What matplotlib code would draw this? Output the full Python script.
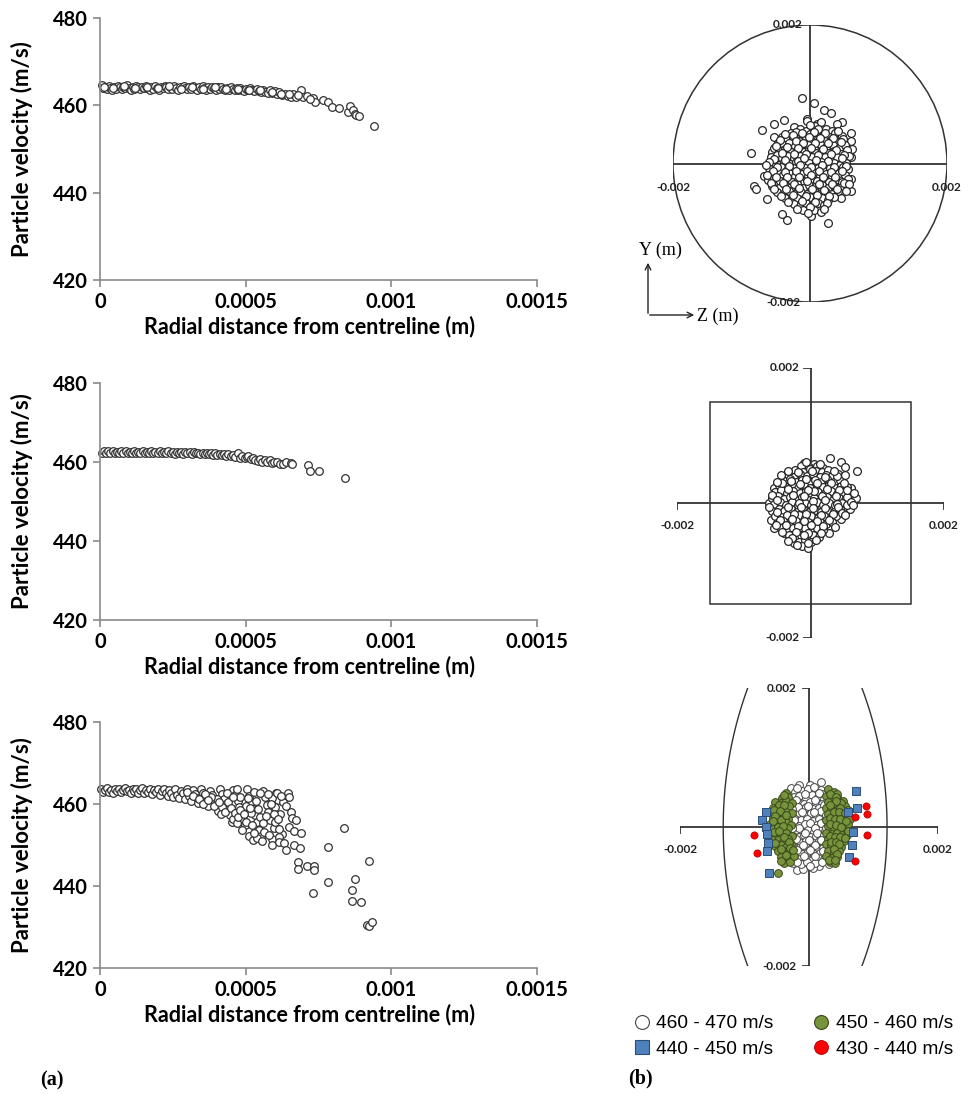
import numpy as np
import matplotlib
matplotlib.use("Agg")
import matplotlib.pyplot as plt
from matplotlib.patches import Ellipse, Rectangle
from matplotlib.lines import Line2D

plt.rcParams['font.family'] = ['Lato', 'DejaVu Sans']

# radial distance (micrometres), particle velocity (m/s)
vel_top = [
    (8, 464.6), (12, 463.9), (18, 464.2), (24, 463.7), (30, 464.4), (36, 464.0), (42, 463.6), (48, 464.3),
    (55, 463.8), (61, 464.5), (67, 464.1), (74, 463.7), (80, 464.3), (86, 463.9), (93, 464.6), (99, 464.0),
    (106, 463.6), (112, 464.2), (118, 463.8), (125, 464.5), (131, 464.1), (138, 463.7), (144, 464.3), (150, 463.9),
    (157, 464.5), (163, 464.0), (170, 463.6), (176, 464.2), (183, 463.8), (189, 464.4), (196, 464.0), (202, 463.6),
    (209, 464.3), (215, 463.9), (222, 464.5), (228, 464.1), (235, 463.7), (241, 464.2), (248, 463.8), (254, 464.4),
    (261, 464.0), (267, 463.6), (274, 464.3), (280, 463.9), (287, 464.4), (293, 464.0), (300, 463.7), (306, 464.2),
    (313, 463.8), (319, 464.4), (326, 464.0), (332, 463.6), (339, 464.2), (345, 463.8), (352, 464.4), (358, 463.9),
    (365, 463.6), (371, 464.2), (378, 463.8), (384, 464.3), (391, 463.9), (397, 463.5), (404, 464.1), (410, 463.7),
    (417, 464.2), (423, 463.8), (430, 463.5), (436, 464.0), (443, 463.6), (449, 464.1), (456, 463.7), (462, 463.4),
    (469, 463.9), (475, 463.5), (482, 464.0), (488, 463.6), (495, 463.3), (502, 463.8), (508, 463.4), (515, 463.9),
    (522, 463.5), (530, 463.2), (538, 463.7), (545, 463.3), (552, 463.0), (560, 463.5), (568, 463.1), (576, 462.9),
    (584, 463.4), (592, 462.8), (600, 463.2), (608, 462.6), (615, 463.0), (625, 462.4), (635, 462.7), (645, 462.2),
    (655, 461.9), (662, 462.5), (673, 462.0), (690, 463.5), (698, 461.8), (710, 462.2), (730, 461.7), (737, 460.7),
    (765, 461.2), (784, 460.7), (796, 459.7), (820, 459.4), (850, 458.5), (857, 459.9), (867, 458.9), (876, 458.0),
    (879, 457.7), (888, 457.6), (941, 455.2),
    (15, 464.1), (46, 463.9), (83, 464.4), (121, 463.9), (160, 464.3), (199, 463.9), (238, 464.4), (277, 463.8),
    (316, 464.1), (355, 463.7), (394, 464.2), (433, 463.8), (472, 463.7), (511, 463.6), (550, 463.4), (589, 463.1),
    (620, 462.7), (650, 462.5), (680, 462.3), (720, 461.5),
]
vel_mid = [
    (8, 462.2), (15, 462.7), (22, 462.3), (29, 462.8), (36, 462.4), (44, 462.7), (51, 462.2), (58, 462.6),
    (66, 462.3), (73, 462.8), (80, 462.4), (88, 462.7), (95, 462.2), (102, 462.6), (110, 462.3), (117, 462.8),
    (124, 462.4), (132, 462.6), (139, 462.2), (146, 462.7), (154, 462.3), (161, 462.6), (168, 462.2), (176, 462.7),
    (183, 462.4), (190, 462.6), (198, 462.2), (205, 462.7), (212, 462.3), (220, 462.6), (227, 462.2), (234, 462.7),
    (242, 462.3), (249, 462.5), (256, 462.1), (264, 462.6), (271, 462.2), (278, 462.5), (286, 462.1), (293, 462.6),
    (300, 462.2), (308, 462.5), (315, 462.1), (322, 462.5), (330, 462.2), (337, 462.4), (344, 462.0), (352, 462.4),
    (359, 462.0), (366, 462.3), (374, 461.9), (381, 462.3), (388, 461.8), (396, 462.2), (403, 461.8), (411, 462.1),
    (418, 461.7), (426, 462.0), (433, 461.6), (441, 461.9), (449, 461.4), (457, 461.8), (465, 461.3), (472, 462.2),
    (480, 461.1), (488, 461.5), (496, 460.9), (503, 461.3), (509, 461.4), (517, 460.8), (525, 461.0), (533, 460.6),
    (541, 460.3), (549, 460.7), (557, 460.1), (565, 460.4), (574, 459.9), (582, 460.4), (590, 459.8), (598, 460.1),
    (606, 459.9), (617, 459.6), (628, 459.5), (640, 459.9), (655, 459.7), (660, 459.4), (713, 459.3), (721, 457.6),
    (752, 457.6), (841, 455.9),
]
vel_bot = [
    (5, 463.6), (12, 462.9), (18, 463.4), (25, 463.8), (31, 463.0), (38, 463.5), (45, 462.8), (51, 463.7),
    (58, 463.2), (65, 463.6), (72, 462.9), (78, 463.4), (85, 463.8), (92, 463.1), (98, 463.5), (105, 462.8),
    (112, 463.6), (118, 463.2), (125, 463.7), (132, 462.7), (138, 463.3), (145, 463.8), (152, 462.6), (158, 463.4),
    (165, 463.0), (172, 463.7), (178, 462.5), (185, 463.3), (192, 462.9), (198, 463.6), (205, 462.3), (212, 463.1),
    (218, 463.7), (225, 462.6), (232, 462.0), (238, 463.4), (245, 462.8), (252, 461.8), (258, 463.6), (265, 462.3),
    (272, 461.5), (278, 463.1), (285, 462.6), (292, 461.2), (298, 463.7), (305, 462.0), (312, 460.8), (318, 463.3),
    (325, 462.4), (332, 461.4), (338, 460.2), (345, 463.6), (352, 462.8), (358, 461.7), (365, 460.6), (372, 459.5),
    (378, 463.2), (385, 462.1), (392, 460.9), (398, 459.8), (405, 458.4), (412, 463.7), (418, 462.5), (425, 461.3),
    (432, 460.1), (438, 458.8), (445, 457.3), (452, 455.6), (458, 463.4), (465, 462.2), (472, 460.7), (478, 459.3),
    (485, 457.9), (492, 456.4), (498, 454.8), (505, 463.6), (512, 462.0), (518, 460.4), (525, 458.9), (532, 457.2),
    (538, 455.5), (545, 453.7), (552, 452.2), (558, 463.2), (565, 461.6), (572, 459.8), (578, 458.1), (585, 456.0),
    (592, 451.4), (598, 454.2), (605, 462.8), (612, 460.9), (618, 457.6), (625, 452.8), (458, 456.3), (470, 455.4),
    (488, 453.6), (510, 452.1), (525, 451.3), (540, 451.6), (555, 450.9), (520, 457.7), (535, 460.8), (500, 459.5),
    (480, 461.6), (440, 460.5), (420, 459.2), (400, 461.1), (380, 461.8), (360, 462.4), (470, 463.6), (530, 463.0),
    (590, 461.4), (602, 459.2), (596, 457.6), (575, 462.4),
    (300, 462.9), (320, 461.9), (340, 461.1), (355, 460.0), (370, 460.9), (390, 459.6), (410, 460.4), (415, 457.6),
    (430, 458.0), (435, 462.8), (448, 459.1), (455, 461.8), (462, 457.8), (475, 456.8), (482, 458.6), (495, 457.6),
    (502, 455.7), (508, 461.5), (515, 459.0), (522, 455.0), (528, 453.0), (542, 458.7), (548, 456.8), (550, 462.6),
    (560, 455.4), (563, 453.1), (570, 457.0), (580, 452.5), (588, 459.9), (600, 455.6), (615, 453.8), (628, 460.5),
    (640, 459.5), (645, 462.8), (655, 458.0),
    (650, 461.8), (607, 462.6), (620, 461.9), (610, 456.3), (659, 456.6), (672, 456.2), (648, 454.4), (666, 453.3),
    (690, 452.9), (613, 451.9), (589, 449.9), (613, 450.7), (632, 450.5), (638, 448.7), (666, 450.1), (687, 449.3),
    (680, 445.8), (680, 444.2), (711, 445.0), (733, 445.0), (733, 444.0), (732, 438.3), (781, 449.6), (781, 441.0),
    (836, 454.1), (865, 439.0), (874, 441.7), (865, 436.4), (895, 436.0), (924, 446.0), (918, 430.4), (924, 430.2),
    (932, 431.2),
]

# particle positions in the cross sections, (z, y) in micrometres
sec_circle = [
    (-122, 945), (58, 867), (205, 769), (312, 730), (463, 599), (399, 575), (-526, 575), (-380, 633), (-696, 477),
    (-857, 156), (594, 438), (594, 331), (618, 209), (594, 88), (-818, -326), (-794, -375), (-633, -506),
    (-404, -730), (-341, -813), (10, -765), (268, -852), (448, -497), (594, -229), (594, -399), (131, -618),
    (-112, -618), (-209, -594), (-672, -180), (-550, 160), (-526, 380), (-234, 526), (-39, 648), (107, 575),
    (-502, -131),
    (-47, 612), (73, 541), (164, 596), (-152, 498), (-61, 467), (38, 489), (129, 452), (227, 503), (318, 468),
    (-281, 447), (-193, 421), (-96, 396), (4, 428), (97, 381), (183, 414), (276, 389), (372, 437), (466, 402),
    (-411, 383), (-338, 352), (-247, 369), (-158, 331), (-63, 349), (28, 312), (119, 347), (213, 318), (301, 341),
    (397, 306), (489, 352), (-462, 297), (-383, 268), (-301, 291), (-214, 254), (-127, 283), (-33, 262), (61, 241),
    (152, 279), (239, 237), (334, 262), (421, 229), (518, 274), (-527, 219), (-446, 183), (-358, 207), (-271, 172),
    (-186, 198), (-93, 159), (-8, 188), (84, 152), (172, 183), (265, 149), (351, 174), (447, 141), (541, 191),
    (-571, 98), (-489, 121), (-402, 84), (-318, 112), (-231, 73), (-142, 104), (-54, 67), (35, 96), (128, 61),
    (219, 92), (308, 58), (396, 89), (487, 54), (573, 112), (-543, 12), (-458, -21), (-376, 23), (-289, -8),
    (-198, 18), (-111, -27), (-19, 4), (71, -19), (163, 21), (254, -12), (346, 14), (438, -24), (529, 9),
    (-596, -62), (-507, -89), (-421, -54), (-333, -97), (-247, -68), (-157, -101), (-68, -59), (27, -92),
    (117, -63), (208, -105), (297, -71), (389, -98), (478, -57), (561, -86), (-563, -158), (-472, -134),
    (-388, -172), (-301, -141), (-213, -183), (-122, -149), (-36, -178), (58, -142), (146, -187), (239, -153),
    (327, -181), (419, -139), (508, -168), (-609, -243), (-521, -214), (-437, -257), (-349, -226), (-262, -263),
    (-174, -232), (-83, -271), (6, -221), (97, -259), (189, -228), (278, -266), (371, -237), (462, -274),
    (553, -231), (-548, -318), (-458, -347), (-371, -309), (-283, -338), (-196, -302), (-104, -351), (-13, -314),
    (79, -343), (168, -307), (261, -355), (352, -319), (443, -348), (519, -301), (-487, -412), (-399, -436),
    (-308, -401), (-221, -443), (-132, -408), (-41, -437), (52, -403), (143, -446), (232, -412), (324, -439),
    (412, -404), (-362, -503), (-271, -529), (-183, -492), (-94, -521), (-4, -488), (88, -534), (177, -499),
    (263, -527), (347, -486), (-239, -587), (-148, -612), (-57, -571), (36, -603), (122, -566), (211, -598),
    (-97, -678), (61, -665), (158, -701),
    (-5, 560), (115, 505), (-205, 462), (-110, 440), (52, 455), (225, 447), (410, 468), (-365, 421), (-250, 410),
    (-12, 380), (150, 365), (330, 370), (-440, 335), (-200, 320), (-95, 300), (80, 290), (260, 300), (455, 310),
    (-500, 255), (-335, 245), (-170, 225), (15, 218), (195, 205), (380, 195), (-410, 150), (-240, 135), (-60, 130),
    (120, 125), (300, 130), (500, 120), (-520, 65), (-360, 50), (-180, 35), (-90, 80), (85, 45), (270, 30),
    (460, 80), (-480, -50), (-300, -40), (-150, -15), (20, -55), (170, -25), (350, -50), (520, -40), (-545, -110),
    (-370, -120), (-205, -110), (-40, -115), (130, -110), (300, -120), (470, -110), (-500, -190), (-330, -200),
    (-160, -190), (15, -170), (195, -195), (370, -190), (-570, -280), (-400, -280), (-230, -295), (-50, -255),
    (130, -290), (320, -295), (500, -285), (-520, -370), (-345, -365), (-160, -360), (30, -370), (210, -380),
    (390, -370), (-430, -470), (-250, -460), (-60, -470), (100, -450), (280, -470), (-320, -560), (-110, -540),
    (70, -560), (250, -575), (-190, -650), (5, -630), (-30, -720), (205, -655), (-600, 20), (-625, -160),
    (570, -300), (520, -400), (-640, -20),
]
sec_square = [
    (290, 660), (460, 610), (515, 540), (700, 475), (50, 575), (-100, 590), (-250, 450), (-425, 350), (-550, 225),
    (-625, 0), (-590, -250), (-550, -375), (-400, -450), (-275, -550), (-250, -600), (-50, -625), (275, -450),
    (460, -240), (590, -90), (675, 75), (600, 225),
    (-138, 552), (-27, 531), (96, 548), (187, 517), (-231, 489), (-118, 462), (-14, 497), (83, 471), (176, 453),
    (268, 486), (-342, 417), (-247, 391), (-153, 428), (-52, 402), (44, 437), (139, 388), (229, 419), (318, 396),
    (412, 431), (-398, 326), (-307, 352), (-213, 318), (-121, 341), (-26, 307), (67, 344), (162, 312), (253, 349),
    (347, 318), (441, 343), (-468, 263), (-372, 238), (-281, 272), (-188, 229), (-97, 261), (-3, 224), (91, 267),
    (183, 232), (277, 264), (369, 227), (461, 258), (549, 236), (-531, 163), (-437, 187), (-348, 148), (-256, 179),
    (-162, 141), (-71, 173), (22, 136), (117, 169), (208, 131), (301, 172), (393, 138), (486, 167), (572, 149),
    (-582, 71), (-489, 98), (-398, 57), (-309, 89), (-217, 48), (-126, 83), (-34, 42), (58, 79), (151, 44),
    (243, 86), (336, 51), (428, 81), (521, 46), (-548, -18), (-452, 12), (-361, -27), (-273, 8), (-181, -33),
    (-88, 4), (4, -29), (97, 9), (188, -36), (281, 2), (373, -31), (466, 6), (553, -23), (-571, -112), (-479, -84),
    (-391, -121), (-298, -92), (-207, -129), (-114, -96), (-21, -133), (72, -101), (163, -137), (254, -103),
    (348, -128), (437, -94), (-537, -187), (-442, -214), (-354, -176), (-262, -221), (-171, -183), (-78, -226),
    (13, -189), (106, -229), (197, -192), (288, -231), (379, -198), (-497, -297), (-406, -268), (-313, -304),
    (-223, -273), (-132, -311), (-41, -279), (52, -317), (143, -283), (233, -314), (322, -287), (-447, -372),
    (-353, -401), (-264, -366), (-173, -408), (-82, -373), (9, -412), (101, -377), (191, -403), (-318, -476),
    (-226, -502), (-137, -468), (-46, -511), (44, -479), (131, -507), (-178, -571), (-88, -552), (4, -583),
    (-131, -641), (-31, -668),
    (-70, 600), (140, 585), (20, 470), (-190, 455), (210, 380), (-290, 330), (-60, 360), (100, 300), (300, 290),
    (500, 290), (-420, 290), (-150, 280), (50, 185), (-330, 200), (-30, 190), (240, 200), (420, 190), (-580, 120),
    (-260, 120), (-90, 110), (170, 100), (380, 110), (540, 95), (-500, 40), (-170, 0), (30, 30), (220, 40),
    (400, -10), (600, 20), (-620, -60), (-340, -60), (-140, -60), (40, -70), (210, -70), (410, -60), (-500, -140),
    (-250, -160), (-60, -170), (150, -180), (330, -160), (-450, -250), (-280, -240), (-90, -260), (100, -270),
    (280, -250), (-520, -330), (-370, -320), (-180, -340), (0, -330), (180, -340), (-420, -430), (-220, -430),
    (-30, -440), (150, -440), (-280, -520), (-90, -480), (80, -550), (-40, -600), (-340, -560), (-200, -620),
    (360, -360), (390, 400), (520, 420), (350, 470), (-330, 480), (-440, 420), (-500, 310), (470, -150),
    (520, -180), (540, 190), (650, 150), (630, -30),
]
sec_white = [
    (-284, 562), (-155, 610), (15, 610), (181, 648), (181, 538), (-181, -614), (155, -566), (310, -533), (-90, -600),
    (60, -590), (-250, -520), (-210, 500), (-110, 520), (-20, 545), (90, 505), (200, 470), (-240, 430), (-150, 445),
    (-50, 420), (40, 455), (140, 430), (230, 400), (-260, 350), (-170, 365), (-80, 330), (10, 360), (110, 340),
    (200, 325), (-220, 270), (-130, 255), (-40, 285), (55, 260), (150, 280), (240, 250), (-250, 180), (-160, 200),
    (-70, 170), (25, 195), (115, 175), (210, 190), (-210, 110), (-120, 95), (-30, 120), (65, 90), (160, 115),
    (250, 100), (-240, 30), (-150, 15), (-60, 40), (30, 10), (120, 35), (215, 20), (-200, -50), (-110, -65),
    (-20, -40), (75, -70), (170, -45), (255, -60), (-250, -130), (-160, -145), (-70, -120), (25, -150), (115, -125),
    (210, -140), (-220, -210), (-130, -225), (-40, -200), (55, -230), (150, -205), (240, -220), (-240, -290),
    (-150, -305), (-60, -280), (35, -310), (125, -285), (220, -300), (-200, -375), (-110, -390), (-20, -365),
    (75, -395), (170, -370), (260, -385), (-230, -450), (-140, -465), (-50, -440), (45, -470), (140, -445),
    (230, -460), (-120, -530), (-30, -510), (90, -520),
    (-180, 560), (80, 580), (-60, 480), (150, 490), (-200, 390), (100, 390), (230, 320), (-10, 300), (-170, 290),
    (190, 230), (-110, 220), (70, 210), (-240, 100), (20, 60), (180, 60), (-150, -10), (90, -10), (-60, -90),
    (120, -90), (230, -110), (-200, -170), (0, -190), (190, -180), (-100, -260), (90, -260), (-180, -330),
    (20, -330), (210, -345), (-80, -420), (100, -420), (-180, -500), (20, -560), (200, -510), (260, -10),
    (-260, -10), (270, 170), (-270, 260),
]
sec_green = [
    (-362, 490), (-420, 420), (-330, 430), (-520, 360), (-440, 350), (-350, 370), (-270, 340), (-560, 280),
    (-480, 290), (-400, 270), (-310, 300), (-590, 200), (-510, 210), (-430, 190), (-350, 220), (-270, 200),
    (-560, 130), (-480, 120), (-400, 140), (-320, 110), (-600, 50), (-520, 60), (-440, 40), (-360, 70), (-280, 30),
    (-560, -30), (-480, -20), (-400, -50), (-320, -10), (-590, -110), (-510, -100), (-430, -120), (-350, -90),
    (-270, -130), (-560, -190), (-480, -180), (-400, -210), (-320, -170), (-520, -270), (-440, -260), (-360, -290),
    (-280, -250), (-480, -350), (-400, -340), (-320, -370), (-440, -430), (-360, -450), (-280, -420), (-390, -520),
    (-300, -500), (-480, -660),
    (-380, 460), (-470, 320), (-380, 320), (-540, 240), (-450, 230), (-520, 160), (-440, 100), (-360, 170),
    (-560, 90), (-480, 0), (-400, 10), (-550, -70), (-470, -60), (-390, -150), (-310, -210), (-520, -230),
    (-440, -310), (-360, -400), (-300, -300), (-240, -420), (-250, -330), (-440, -490),
    (300, 540), (380, 500), (440, 470), (270, 450), (350, 430), (450, 400), (520, 380), (300, 360), (390, 330),
    (480, 320), (560, 300), (260, 280), (340, 260), (430, 250), (520, 230), (600, 240), (300, 190), (390, 170),
    (470, 160), (550, 150), (640, 110), (270, 100), (350, 90), (440, 80), (520, 60), (610, 40), (300, 10),
    (380, -10), (460, -20), (540, -40), (270, -80), (350, -100), (430, -90), (510, -120), (590, -110), (300, -170),
    (380, -190), (460, -180), (540, -200), (260, -250), (340, -270), (420, -260), (500, -290), (300, -340),
    (380, -360), (460, -340), (270, -420), (350, -440), (430, -430), (330, -500), (398, -518),
    (330, 480), (420, 430), (500, 340), (420, 370), (330, 310), (480, 270), (380, 220), (460, 210), (560, 200),
    (320, 130), (400, 120), (480, 110), (580, 80), (330, 40), (420, 30), (500, 0), (600, -60), (320, -130),
    (400, -140), (480, -150), (560, -160), (340, -220), (420, -220), (460, -250), (380, -310), (440, -390),
    (310, -470), (410, -470),
]
sec_blue = [
    (724, 523), (739, 274), (605, 216), (-672, 216), (-724, 106), (-672, -5), (-657, -101), (688, -72), (662, -254),
    (620, -437), (-636, -230), (-646, -341), (-620, -662),
]
sec_red = [(879, 298), (905, 187), (713, 144), (-853, -120), (905, -110), (-812, -374), (713, -485)]

tick_x = [0, 0.0005, 0.001, 0.0015]
tick_x_labels = ['0', '0.0005', '0.001', '0.0015']
tick_y = [420, 440, 460, 480]
tick_y_labels = ['420', '440', '460', '480']
legend_labels = ['460 - 470 m/s', '440 - 450 m/s', '450 - 460 m/s', '430 - 440 m/s']

W, H = 969, 1094
fig = plt.figure(figsize=(W / 100, H / 100), dpi=100)


def px_axes(left, top, right, bottom):
    return fig.add_axes([left / W, 1 - bottom / H, (right - left) / W, (bottom - top) / H])


def pos_um(points):
    arr = np.array(points, dtype=float) * 1e-6
    return arr[:, 0], arr[:, 1]


# (a) velocity against radial distance
grey = '#8a8a8a'
for pts, top, bottom in [(vel_top, 18, 280), (vel_mid, 383, 620), (vel_bot, 722, 968)]:
    ax = px_axes(100, top, 537, bottom)
    arr = np.array(pts, dtype=float)
    ax.plot(arr[:, 0] * 1e-6, arr[:, 1], 'o', ms=5.5, mfc='white', mec='#333333', mew=0.9, clip_on=False)
    ax.set_xlim(0, 0.0015)
    ax.set_ylim(420, 480)
    ax.set_xticks(tick_x, labels=tick_x_labels, fontweight='bold', fontsize=14.5)
    ax.set_yticks(tick_y, labels=tick_y_labels, fontweight='bold', fontsize=14.5)
    for s in ['top', 'right']:
        ax.spines[s].set_visible(False)
    for s in ['left', 'bottom']:
        ax.spines[s].set_color(grey)
        ax.spines[s].set_linewidth(1.2)
    ax.tick_params(direction='out', length=5, width=1.2, color=grey, pad=4)
    h = bottom - top
    ax.set_ylabel('Particle velocity (m/s)', fontsize=16, fontweight='bold')
    ax.yaxis.set_label_coords(-78 / 437, 0.5)
    ax.yaxis.label.set_va('center')
    ax.set_xlabel('Radial distance from centreline (m)', fontsize=15.5, fontweight='bold')
    ax.xaxis.set_label_coords(0.48, -47 / h)
    ax.xaxis.label.set_va('center')


def cross(ax, ticks):
    ax.plot([-0.002, 0.002], [0, 0], color='#333333', lw=1.3)
    ax.plot([0, 0], [-0.002, 0.002], color='#333333', lw=1.3)
    if ticks:
        t = 0.00009
        ax.plot([-t, 0], [0.002, 0.002], color='#333333', lw=1.3)
        ax.plot([-t, 0], [-0.002, -0.002], color='#333333', lw=1.3)
        ax.plot([-0.002, -0.002], [0, -t], color='#333333', lw=1.3)
        ax.plot([0.002, 0.002], [0, -t], color='#333333', lw=1.3)
    ax.set_xlim(-0.002, 0.002)
    ax.set_ylim(-0.002, 0.002)
    ax.axis('off')


lab_kw = dict(fontsize=8.5, fontweight='bold', color='#222222', va='center')
pt_kw = dict(ls='', marker='o', ms=5.6, mfc='white', mec='#262626', mew=0.9)

# (b) circular section
ax = px_axes(673, 25, 947, 302)
ax.add_patch(Ellipse((0, 0), 0.004, 0.004, fill=False, ec='#333333', lw=1.1))
cross(ax, False)
z, y = pos_um(sec_circle)
ax.plot(z, y, **pt_kw)
ax.text(-0.00033, 0.002, '0.002', ha='center', **lab_kw)
ax.text(-0.002, -0.00034, '-0.002', ha='center', **lab_kw)
ax.text(0.002, -0.00034, '0.002', ha='center', **lab_kw)
ax.text(-0.00039, -0.002, '-0.002', ha='center', **lab_kw)

# axis direction indicator
ax.annotate('', xy=(648 / W, 1 - 260 / H), xytext=(648 / W, 1 - 316 / H), xycoords='figure fraction',
            arrowprops=dict(arrowstyle='->', lw=1.0, color='#222222'))
ax.annotate('', xy=(697 / W, 1 - 315 / H), xytext=(647 / W, 1 - 315 / H), xycoords='figure fraction',
            arrowprops=dict(arrowstyle='->', lw=1.0, color='#222222'))
fig.text(639 / W, 1 - 250 / H, 'Y (m)', family='Liberation Serif', fontsize=13, va='center', ha='left')
fig.text(697 / W, 1 - 316 / H, 'Z (m)', family='Liberation Serif', fontsize=13, va='center', ha='left')

# square section
ax = px_axes(677, 368, 944, 638)
ax.add_patch(Rectangle((-0.0015, -0.0015), 0.003, 0.003, fill=False, ec='#333333', lw=1.1))
cross(ax, True)
z, y = pos_um(sec_square)
ax.plot(z, y, **pt_kw)
ax.text(-0.00017, 0.002, '0.002', ha='right', **lab_kw)
ax.text(-0.002, -0.00034, '-0.002', ha='center', **lab_kw)
ax.text(0.002, -0.00034, '0.002', ha='center', **lab_kw)
ax.text(-0.00017, -0.002, '-0.002', ha='right', **lab_kw)

# curved section
ax = px_axes(680, 688, 938, 966)
yy = np.linspace(-0.002, 0.002, 100)
for mid, end in [(-0.00133, -0.00095), (0.00121, 0.00082)]:
    c = (end ** 2 + 0.002 ** 2 - mid ** 2) / (2 * (end - mid))
    r = abs(c - mid)
    ax.plot(c - np.sign(c) * np.sqrt(r ** 2 - yy ** 2), yy, color='#333333', lw=1.0)
cross(ax, True)
z, y = pos_um(sec_white)
ax.plot(z, y, 'o', ms=5.6, mfc='white', mec='#444444', mew=0.7)
z, y = pos_um(sec_green)
ax.plot(z, y, 'o', ms=5.6, mfc='#77933C', mec='#3b4a1c', mew=0.7)
z, y = pos_um(sec_blue)
ax.plot(z, y, 's', ms=5.4, mfc='#4F81BD', mec='#2c4d75', mew=0.7)
z, y = pos_um(sec_red)
ax.plot(z, y, 'o', ms=5.2, mfc='#FF0000', mec='#aa0000', mew=0.5)
ax.text(-0.00019, 0.002, '0.002', ha='right', **lab_kw)
ax.text(-0.002, -0.00032, '-0.002', ha='center', **lab_kw)
ax.text(0.002, -0.00032, '0.002', ha='center', **lab_kw)
ax.text(-0.00019, -0.002, '-0.002', ha='right', **lab_kw)

handles = [
    Line2D([], [], ls='', marker='o', ms=10, mfc='white', mec='#444444', mew=0.8),
    Line2D([], [], ls='', marker='s', ms=9.5, mfc='#4F81BD', mec='#2c4d75', mew=0.8),
    Line2D([], [], ls='', marker='o', ms=10, mfc='#77933C', mec='#3b4a1c', mew=0.8),
    Line2D([], [], ls='', marker='o', ms=10, mfc='#FF0000', mec='#aa0000', mew=0.6),
]
fig.legend(handles, legend_labels, ncol=2, loc='upper left', bbox_to_anchor=(634 / W, 1 - 1015 / H),
           frameon=False, prop={'family': 'Liberation Sans', 'size': 13.8}, handlelength=0.8,
           handletextpad=0.35, columnspacing=2.1, labelspacing=0.4, borderaxespad=0, borderpad=0)

fig.text(40 / W, 1 - 1080 / H, '(a)', family='Liberation Serif', fontweight='bold', fontsize=14.5, va='center')
fig.text(628 / W, 1 - 1078 / H, '(b)', family='Liberation Serif', fontweight='bold', fontsize=14.5, va='center')

fig.savefig('out.png', dpi=100)
